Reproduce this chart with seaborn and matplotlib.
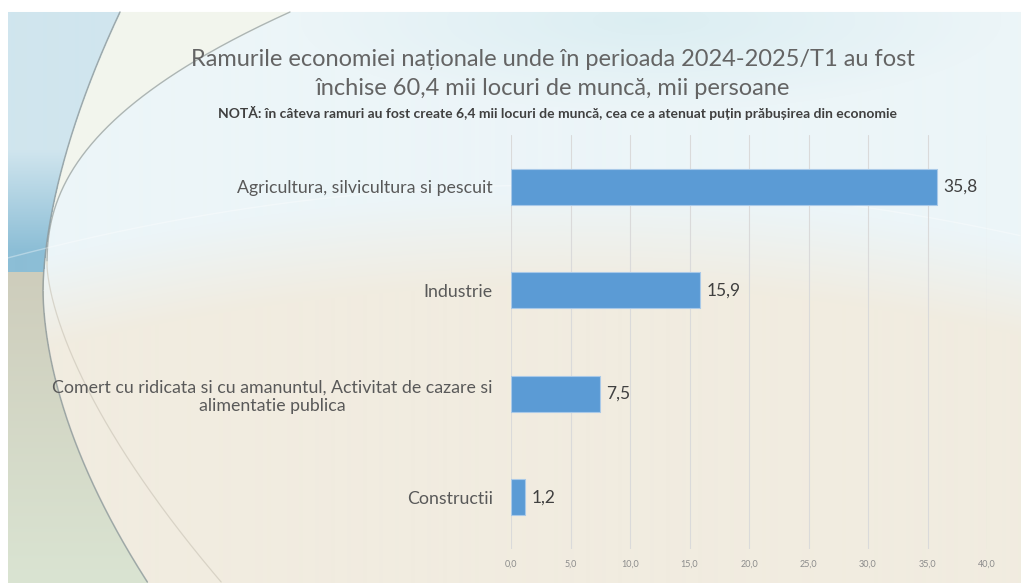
import numpy as np
import pandas as pd
import matplotlib
matplotlib.use('agg')
import matplotlib.pyplot as plt
import seaborn as sns

categories = [
    'Agricultura, silvicultura si pescuit',
    'Industrie',
    'Comert cu ridicata si cu amanuntul, Activitat de cazare si\nalimentatie publica',
    'Constructii',
]
values = [35.8, 15.9, 7.5, 1.2]
ticks = [0, 5, 10, 15, 20, 25, 30, 35, 40]
tick_labels = ['0,0', '5,0', '10,0', '15,0', '20,0', '25,0', '30,0', '35,0', '40,0']

df = pd.DataFrame({'ramura': categories, 'mii': values})

sns.set_style('white')
plt.rcParams['font.family'] = ['Lato', 'DejaVu Sans']

W, H = 1021, 583
fig = plt.figure(figsize=(W / 100, H / 100), dpi=100)

# ---- fundal decorativ (imitatie a sablonului din slide) ----
bg = fig.add_axes([0, 0, 1, 1], zorder=0)
yy, xx = np.mgrid[0:H, 0:W].astype(float)
ys = np.arange(H, dtype=float)


def arc(y, x0, y0, x_top, y_top, p_up, x_bot, y_bot, p_lo):
    # curba cu tangenta verticala in (x0, y0)
    u_up = np.clip((y0 - y) / (y0 - y_top), 0, None)
    u_lo = np.clip((y - y0) / (y_bot - y0), 0, None)
    return np.where(y < y0, x0 + (x_top - x0) * u_up ** p_up,
                    x0 + (x_bot - x0) * u_lo ** p_lo)


xa = arc(ys, 43, 290, 120, 12, 1.7, 148, 583, 1.8)
xb = arc(ys, 47, 265, 290, 12, 2.3, 222, 583, 1.55)
horizon = 185 + 75 * ((xx[0] - 560) / 560) ** 2

top_col = np.array([236, 245, 248]) / 255
bot_col = np.array([241, 236, 224]) / 255
t = np.clip((yy - horizon[None, :] - 10) / 90, 0, 1)[..., None]
img = top_col * (1 - t) + bot_col * t
blue = np.array([208, 233, 238]) / 255
wb = np.clip(1 - np.hypot((xx - 650) / 350, (yy - 20) / 90), 0, 1)[..., None] * 0.6
img = img * (1 - wb) + blue * wb
# zona crem dintre cele doua curbe
inside = (xx >= xa[:, None]) & (xx < xb[:, None]) & (yy < 265)
cream = np.array([247, 246, 230]) / 255
img[inside] = img[inside] * 0.4 + cream * 0.6
# zona din stanga curbei A
left = xx < xa[:, None]
up = left & (yy < 272)
lo = left & (yy >= 272)
sky = np.array([208, 229, 238]) / 255
sky2 = np.array([140, 190, 214]) / 255
s = np.clip((yy - 150) / 100, 0, 1)[..., None]
upcol = sky * (1 - s) + sky2 * s
img[up] = upcol[up]
ground1 = np.array([206, 205, 188]) / 255
ground2 = np.array([218, 228, 210]) / 255
g = np.clip((yy - 272) / 311, 0, 1)[..., None]
locol = ground1 * (1 - g) + ground2 * g
img[lo] = locol[lo]
img[:12, :] = 1
img[:, :8] = 1
bg.imshow(img, extent=[0, W, H, 0], aspect='auto', interpolation='bilinear')
bg.plot(xa[12:], ys[12:], color='#8f9a9c', lw=1.1, alpha=0.8)
bg.plot(xb[12:262], ys[12:262], color='#8f9a9c', lw=1.0, alpha=0.7)
bg.plot(xb[262:], ys[262:], color='#c8c2b4', lw=0.9, alpha=0.6)
bg.plot(xx[0][8:], horizon[8:], color='white', lw=1.0, alpha=0.35)
bg.set_xlim(0, W)
bg.set_ylim(H, 0)
bg.axis('off')

# ---- graficul ----
ax = fig.add_axes([511 / W, 1 - 549 / H, 476 / W, 414 / H], zorder=1)
ax.patch.set_alpha(0)
sns.barplot(data=df, x='mii', y='ramura', color='#5B9BD5', width=0.35,
            saturation=1, edgecolor='#a9c9e8', linewidth=0.8, ax=ax, zorder=3)

for i, v in enumerate(values):
    ax.text(v + 0.5, i, f'{v:.1f}'.replace('.', ','), va='center', ha='left',
            fontsize=12.5, color='#404040')

ax.set_xlim(0, 40)
ax.set_xticks(ticks)
ax.set_xticklabels(tick_labels, fontsize=6.5, color='#8c8c8c')
ax.tick_params(axis='x', length=0, pad=8)
ax.tick_params(axis='y', length=0, pad=13)
for lab in ax.get_yticklabels():
    lab.set_fontsize(12.75)
    lab.set_color('#595959')
    lab.set_multialignment('center')
ax.grid(axis='x', color='#dadada', lw=0.8, zorder=0)
for sp in ax.spines.values():
    sp.set_visible(False)
ax.set_xlabel('')
ax.set_ylabel('')

fig.text(553 / W, 1 - 74 / H,
         'Ramurile economiei naționale unde în perioada 2024-2025/T1 au fost\nînchise 60,4 mii locuri de muncă, mii persoane',
         ha='center', va='center', fontsize=17, color='#646464', linespacing=1.42)
fig.text(557 / W, 1 - 113 / H,
         'NOTĂ: în câteva ramuri au fost create 6,4 mii locuri de muncă, cea ce a atenuat puțin prăbușirea din economie',
         ha='center', va='center', fontsize=10, fontweight='bold', color='#404040')

fig.savefig('out.png', dpi=100)
